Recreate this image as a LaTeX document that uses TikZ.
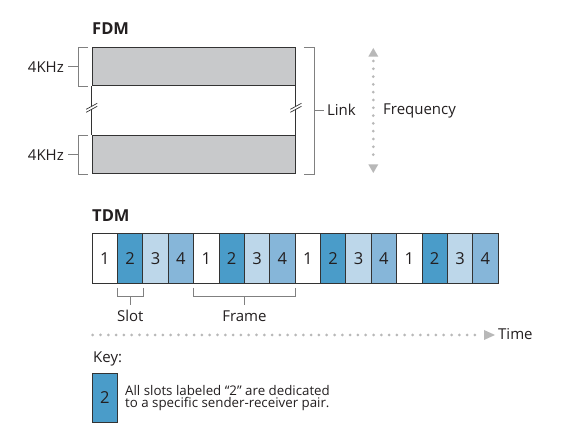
\documentclass[tikz,border=0pt]{standalone}
\usepackage{fontspec}
\setmainfont{Open Sans}
\usetikzlibrary{calc}
\definecolor{fdmgray}{HTML}{C8C9CB}
\definecolor{blueA}{HTML}{4A9CC9}
\definecolor{blueB}{HTML}{BDD7EA}
\definecolor{blueC}{HTML}{86B6D9}
\definecolor{edge}{HTML}{333333}
\definecolor{brk}{HTML}{808080}
\definecolor{dotc}{HTML}{B8B8B8}
\definecolor{txt}{HTML}{231F20}
\begin{document}
\begin{tikzpicture}[x=1pt,y=-1pt,
  every node/.style={text=txt},
  band/.style={draw=edge, line width=0.9pt, fill=fdmgray, minimum width=203.3pt, minimum height=38.5pt, anchor=north west, inner sep=0pt},
  slotbox/.style={draw=edge, line width=0.9pt, minimum width=25.375pt, minimum height=50pt, anchor=north west, inner sep=0pt, font=\fontsize{16.5}{16.5}\selectfont},
  brace/.style={draw=brk, line width=0.8pt},
  lbl/.style={font=\fontsize{15}{15}\selectfont, inner sep=0pt},
  title/.style={font=\bfseries\fontsize{16.5}{16.5}\selectfont, inner sep=0pt, anchor=base west},
  dotline/.style={draw=dotc, line width=3pt, line cap=round, dash pattern=on 0pt off 7.8pt},
  tipfill/.style={fill=dotc, draw=none},
]
\useasboundingbox (0,0) rectangle (563,430);
\fill[white] (0,0) rectangle (563,430);

% ---------- FDM ----------
\node[title] (fdm) at (92,35) {FDM};
\node[band] (top) at (91.7,47) {};
\node[band] (bot) at (91.7,135) {};

\path (top.south west) -- (bot.north west) coordinate[pos=0.43] (bl);
\path (top.south east) -- (bot.north east) coordinate[pos=0.43] (br);
\draw[edge, line width=0.9pt] (top.south west) -- ($(bl)+(0,-1)$);
\draw[edge, line width=0.9pt] ($(bl)+(0,2)$) -- (bot.north west);
\draw[edge, line width=0.9pt] (top.south east) -- ($(br)+(0,-1)$);
\draw[edge, line width=0.9pt] ($(br)+(0,2)$) -- (bot.north east);
\foreach \c in {bl,br}{
  \draw[edge, line width=0.7pt] ($(\c)+(-5.5,2)$) -- ($(\c)+(5.5,-4)$);
  \draw[edge, line width=0.7pt] ($(\c)+(-5.5,5)$) -- ($(\c)+(5.5,-1)$);
}

% left brackets
\foreach \b/\n in {top/k1, bot/k2}{
  \draw[brace] ($(\b.north west)+(-3.7,0)$) -- ($(\b.north west)+(-13.7,0)$)
     -- ($(\b.south west)+(-13.7,0)$) -- ($(\b.south west)+(-3.7,0)$);
  \coordinate (\n) at ($(\b.west)+(-23.7,0)$);
  \draw[brace] ($(\b.west)+(-13.7,0)$) -- (\n);
}
\node[lbl, anchor=base east] (f1) at ($(k1)+(-4,5.7)$) {4KHz};
\node[lbl, anchor=base east] (f2) at ($(k2)+(-4,5.7)$) {4KHz};

% right bracket
\coordinate (rt) at ($(top.north east)+(8,0)$);
\coordinate (rb) at ($(bot.south east)+(8,0)$);
\draw[brace] (rt) -- ++(10,0) coordinate (rt2) -- ($(rb)+(10,0)$) coordinate (rb2) -- (rb);
\path (rt2) -- (rb2) coordinate[pos=0.5] (rm);
\coordinate (lk) at ($(rm)+(10,0)$);
\draw[brace] (rm) -- (lk);
\node[lbl, anchor=base west] (link) at ($(lk)+(3,5)$) {Link};

% frequency arrow
\coordinate (fa1) at (373.3,48);
\coordinate (fa2) at (373.3,173);
\draw[dotline] ($(fa1)+(0,13)$) -- ($(fa2)+(0,-13)$);
\fill[tipfill] (fa1) -- ++(5,8.7) -- ++(-10,0) -- cycle;
\fill[tipfill] (fa2) -- ++(5,-8.7) -- ++(-10,0) -- cycle;
\node[lbl, anchor=base west] (freq) at (383,115) {Frequency};

% ---------- TDM ----------
\node[title] (tdm) at (92,221.7) {TDM};
\foreach \i/\d/\c in {1/1/white,2/2/blueA,3/3/blueB,4/4/blueC,
                      5/1/white,6/2/blueA,7/3/blueB,8/4/blueC,
                      9/1/white,10/2/blueA,11/3/blueB,12/4/blueC,
                      13/1/white,14/2/blueA,15/3/blueB,16/4/blueC}{
  \node[slotbox, fill=\c] (s\i) at ({91.7+(\i-1)*25.375},233) {\d};
}

% slot bracket
\draw[brace] ($(s2.south west)+(0,4)$) -- ($(s2.south west)+(0,13)$)
   -- ($(s2.south east)+(0,13)$) -- ($(s2.south east)+(0,4)$);
\coordinate (sl) at ($(s2.south)+(0,21)$);
\draw[brace] ($(s2.south)+(0,13)$) -- (sl);
\node[lbl, anchor=base] (slot) at ($(s2.south)+(0,37.7)$) {Slot};

% frame bracket
\draw[brace] ($(s5.south west)+(0,4)$) -- ($(s5.south west)+(0,13)$)
   -- ($(s8.south east)+(0,13)$) -- ($(s8.south east)+(0,4)$);
\path ($(s5.south west)+(0,13)$) -- ($(s8.south east)+(0,13)$) coordinate[pos=0.5] (fm);
\coordinate (fl) at ($(fm)+(0,8)$);
\draw[brace] (fm) -- (fl);
\node[lbl, anchor=base] (frame) at ($(fm)+(0,24.7)$) {Frame};

% time arrow
\coordinate (ta1) at (92.7,335);
\coordinate (ta2) at (495,335);
\draw[dotline] (ta1) -- ($(ta2)+(-13,0)$);
\fill[tipfill] (ta2) -- ++(-11,-5) -- ++(0,10) -- cycle;
\node[lbl, anchor=base west] (time) at (498,340) {Time};

% ---------- Key ----------
\node[lbl, anchor=base west] (keyl) at (93,362.7) {Key:};
\node[slotbox, fill=blueA, minimum width=25.6pt, minimum height=49pt] (key) at (91.7,373) {2};
\node[anchor=base west, inner sep=0pt, align=left, font=\fontsize{13.3}{12.6}\selectfont] (keytxt) at (125,408)
  {All slots labeled “2” are dedicated\\to a specific sender-receiver pair.};
\end{tikzpicture}
\end{document}
